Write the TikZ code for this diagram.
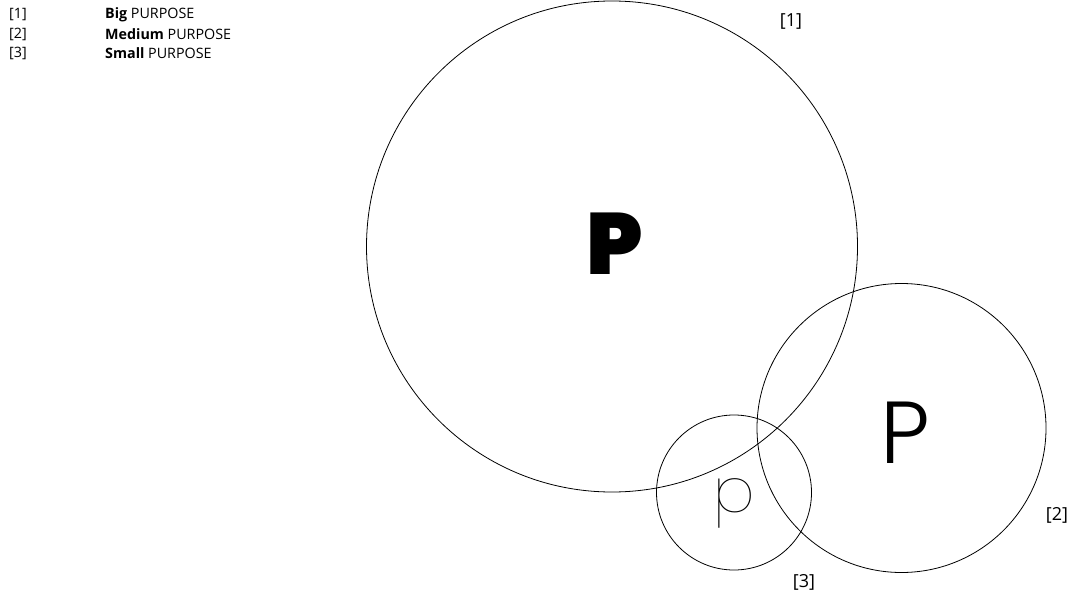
\documentclass[tikz,border=0pt]{standalone}
\usepackage{fontspec}
\setmainfont{Open Sans}
\newfontfamily\pblack{Poppins Black}
\newfontfamily\plight{Poppins Light}
\newfontfamily\pthin{Poppins Thin}
\begin{document}
\begin{tikzpicture}[x=1pt,y=-1pt,
  ring/.style={draw=black, line width=0.8pt},
  tag/.style={font=\fontsize{18}{21}\selectfont, anchor=center, inner sep=0pt},
  leg/.style={font=\fontsize{14.3}{17}\selectfont, anchor=west, inner sep=0pt}]
\useasboundingbox (0,0) rectangle (1075,596);
\draw[ring] (612,246.5) circle (245.5) coordinate (big);
\draw[ring] (901.5,428) circle (144.5) coordinate (med);
\draw[ring] (734,492.5) circle (77.5) coordinate (sml);
\node[inner sep=0pt, font=\pblack\fontsize{87}{87}\selectfont] (pb) at (615,244) {P};
\node[inner sep=0pt, font=\plight\fontsize{88}{88}\selectfont] (pm) at (905,433) {P};
\node[inner sep=0pt, font=\pthin\fontsize{62}{62}\selectfont] (ps) at (734,503) {p};
\node[tag] (l1) at (791,22) {[1]};
\node[tag] (l2) at (1057,515) {[2]};
\node[tag] (l3) at (804,582) {[3]};
\node[leg] (k1) at (9,15) {[1]};
\node[leg] (k2) at (9,34) {[2]};
\node[leg] (k3) at (9,53) {[3]};
\node[leg] (t1) at (105,15) {{\bfseries Big} PURPOSE};
\node[leg] (t2) at (105,34) {{\bfseries Medium} PURPOSE};
\node[leg] (t3) at (105,53) {{\bfseries Small} PURPOSE};
\end{tikzpicture}
\end{document}
